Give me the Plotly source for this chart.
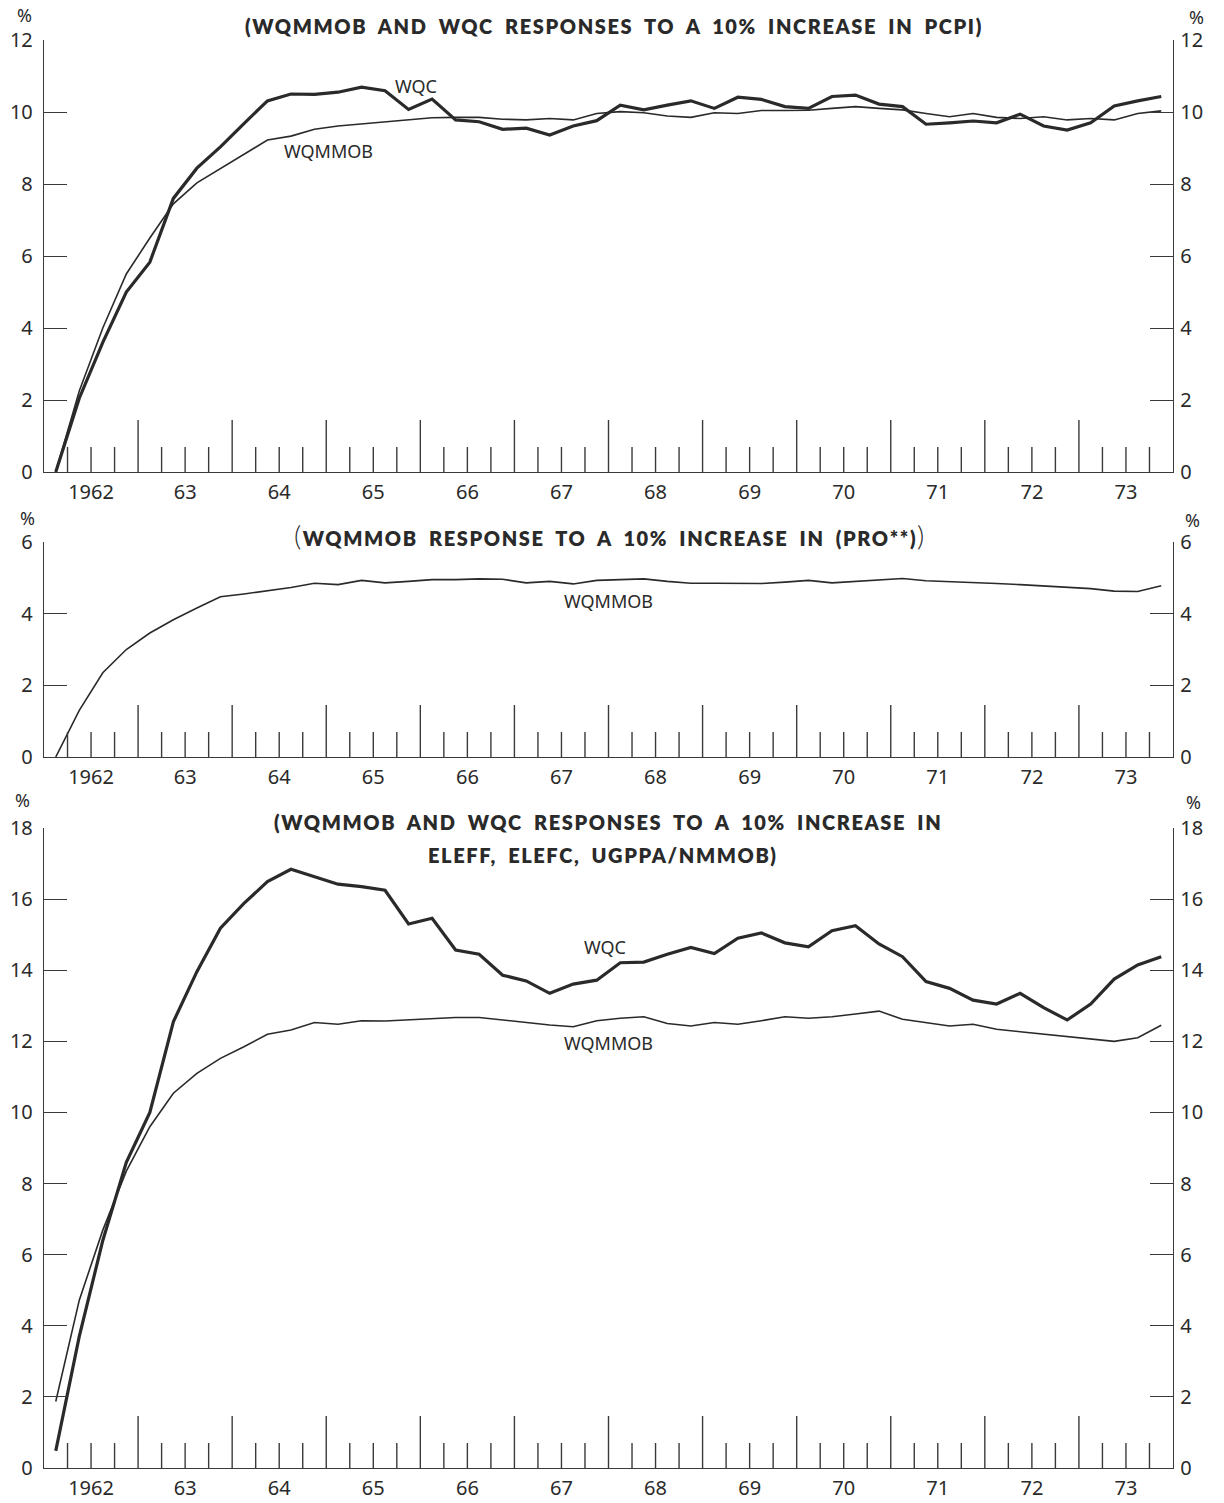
import plotly.graph_objects as go

# ---------------- data ----------------
years = list(range(1962, 1974))
year_labels = ["1962", "63", "64", "65", "66", "67", "68", "69", "70", "71", "72", "73"]
quarters = [f"{y}Q{q}" for y in years for q in (1, 2, 3, 4)]

top_wqc = [0.0, 2.05, 3.6, 5.0, 5.83, 7.6, 8.44, 9.03, 9.68, 10.31, 10.5, 10.49,
           10.55, 10.69, 10.59, 10.07, 10.36, 9.78, 9.73, 9.52, 9.55, 9.36, 9.61, 9.76,
           10.19, 10.06, 10.19, 10.31, 10.1, 10.41, 10.35, 10.15, 10.1, 10.43, 10.47, 10.22,
           10.15, 9.66, 9.7, 9.75, 9.7, 9.94, 9.61, 9.5, 9.7, 10.17, 10.31, 10.43]
top_wqmmob = [0.0, 2.25, 4.0, 5.5, 6.5, 7.45, 8.03, 8.42, 8.82, 9.22, 9.33, 9.52,
              9.61, 9.67, 9.74, 9.8, 9.84, 9.85, 9.85, 9.8, 9.78, 9.82, 9.78, 9.96,
              10.01, 9.98, 9.89, 9.85, 9.98, 9.96, 10.04, 10.04, 10.05, 10.1, 10.15, 10.1,
              10.06, 9.96, 9.87, 9.96, 9.85, 9.82, 9.87, 9.78, 9.82, 9.78, 9.96, 10.03]

mid_wqmmob = [0.0, 1.3, 2.35, 3.0, 3.46, 3.83, 4.16, 4.47, 4.55, 4.63, 4.73, 4.85,
              4.81, 4.93, 4.86, 4.9, 4.95, 4.95, 4.97, 4.96, 4.86, 4.9, 4.83, 4.93,
              4.94, 4.97, 4.9, 4.85, 4.85, 4.84, 4.84, 4.88, 4.93, 4.86, 4.9, 4.95,
              4.98, 4.92, 4.9, 4.87, 4.84, 4.81, 4.78, 4.75, 4.7, 4.63, 4.62, 4.78]

bot_wqc = [0.48, 3.7, 6.4, 8.6, 10.0, 12.55, 13.96, 15.18, 15.88, 16.49, 16.84, 16.63,
           16.42, 16.35, 16.25, 15.3, 15.46, 14.57, 14.45, 13.86, 13.7, 13.35, 13.61, 13.72,
           14.21, 14.23, 14.45, 14.64, 14.47, 14.9, 15.05, 14.77, 14.66, 15.11, 15.25, 14.74,
           14.38, 13.68, 13.49, 13.16, 13.05, 13.35, 12.95, 12.6, 13.05, 13.75, 14.15, 14.38]
bot_wqmmob = [1.87, 4.72, 6.69, 8.35, 9.6, 10.54, 11.1, 11.52, 11.85, 12.2, 12.32, 12.53,
              12.48, 12.58, 12.57, 12.6, 12.63, 12.67, 12.67, 12.6, 12.52, 12.46, 12.41, 12.58,
              12.65, 12.69, 12.5, 12.43, 12.53, 12.48, 12.58, 12.69, 12.65, 12.69, 12.77, 12.85,
              12.62, 12.52, 12.43, 12.48, 12.34, 12.27, 12.2, 12.12, 12.05, 12.0, 12.1, 12.45]

titles = [
    ["(WQMMOB AND WQC RESPONSES TO A 10% INCREASE IN PCPI)"],
    ["(WQMMOB RESPONSE TO A 10% INCREASE IN (PRO**))"],
    ["(WQMMOB AND WQC RESPONSES TO A 10% INCREASE IN", "ELEFF, ELEFC, UGPPA/NMMOB)"],
]

# ---------------- helpers ----------------
W, H = 1224, 1503
ML, MR = 44, 51
PW = W - ML - MR


def qpos(label):
    y, q = label.split("Q")
    return int(y) + (int(q) - 0.5) / 4.0


def px(xpix):
    return (xpix - ML) / PW


def py(ypix):
    return 1 - ypix / H


xq = [qpos(q) for q in quarters]
INK = "#2a2a2a"
AXC = "#3a3a3a"
TICKFONT = dict(family="Noto Sans", size=20, color=INK)
PCTFONT = dict(family="Noto Sans", size=18, color=INK)
LABFONT = dict(family="Noto Sans", size=18, color=INK)
TITLEFONT = dict(family="Lato", size=20, color=INK)

panels = [
    dict(ymax=12, top=40, bottom=472,
         series=[(top_wqc, 3.2), (top_wqmmob, 1.6)],
         labels=[("WQC", 416, 86), ("WQMMOB", 328, 151)],
         title_pos=[(614, 26)], pct=[(24, 15), (1196, 17)]),
    dict(ymax=6, top=542, bottom=757,
         series=[(mid_wqmmob, 1.6)],
         labels=[("WQMMOB", 608, 601)],
         title_pos=[(610, 535)], pct=[(27, 518), (1192, 520)]),
    dict(ymax=18, top=828, bottom=1468,
         series=[(bot_wqc, 3.2), (bot_wqmmob, 1.6)],
         labels=[("WQC", 605, 947), ("WQMMOB", 608, 1043)],
         title_pos=[(608, 822), (603, 855)], pct=[(22, 800), (1193, 802)]),
]

fig = go.Figure()
annotations = []

year_bounds = years[1:]
quarter_bounds = [y + f for y in years for f in (0.25, 0.5, 0.75)]
mid_years = [y + 0.5 for y in years]

for k, p in enumerate(panels, start=1):
    xa = "x" if k == 1 else f"x{k}"
    ya = "y" if k == 1 else f"y{k}"
    yr = f"y{k + 3}"
    # year / quarter tick marks drawn on the axis scale
    unit_px = (p["bottom"] - p["top"]) / p["ymax"]
    long_h = 52 / unit_px
    short_h = 25 / unit_px
    tx, ty = [], []
    for b in year_bounds:
        tx += [b, b, None]
        ty += [0, long_h, None]
    for b in quarter_bounds:
        tx += [b, b, None]
        ty += [0, short_h, None]
    fig.add_trace(go.Scatter(x=tx, y=ty, mode="lines", xaxis=xa, yaxis=yr,
                             line=dict(color=AXC, width=1.4), hoverinfo="skip",
                             showlegend=False))
    for vals, lw in p["series"]:
        fig.add_trace(go.Scatter(x=xq, y=vals, mode="lines", xaxis=xa, yaxis=ya,
                                 line=dict(color=INK, width=lw), showlegend=False,
                                 cliponaxis=False))
    dom = [py(p["bottom"]), py(p["top"])]
    yticks = list(range(0, p["ymax"] + 1, 2))
    common_y = dict(range=[0, p["ymax"]], tickvals=yticks, ticks="inside", ticklen=23,
                    tickwidth=1.4, tickcolor=AXC, showline=True, linecolor=AXC,
                    linewidth=1.4, showgrid=False, zeroline=False, tickfont=TICKFONT,
                    domain=dom, fixedrange=True, automargin=False)
    fig.update_layout(**{
        ("xaxis" if k == 1 else f"xaxis{k}"): dict(
            range=[1962, 1974], domain=[0, 1], anchor=ya, tickvals=mid_years,
            ticktext=year_labels, ticks="", showline=True, linecolor=AXC, linewidth=1.4,
            showgrid=False, zeroline=False, tickfont=TICKFONT, ticklabelstandoff=2,
            automargin=False, fixedrange=True),
        ("yaxis" if k == 1 else f"yaxis{k}"): dict(anchor=xa, side="left",
                                                   ticklabelstandoff=6, **common_y),
        f"yaxis{k + 3}": dict(anchor=xa, side="right", overlaying=ya,
                              ticklabelstandoff=2, **common_y),
    })
    for txt, lx, ly in p["labels"]:
        annotations.append(dict(text=txt, x=px(lx), y=py(ly), xref="paper", yref="paper",
                                showarrow=False, font=LABFONT, xanchor="center",
                                yanchor="middle"))
    for line, (tx_, ty_) in zip(titles[k - 1], p["title_pos"]):
        styled = line
        if k == 2:
            styled = ('<span style="font-size:28px;font-weight:300">(</span>'
                      + line[1:-1]
                      + '<span style="font-size:28px;font-weight:300">)</span>')
        annotations.append(dict(
            text=f'<span style="letter-spacing:1.6px;word-spacing:5px">{styled}</span>',
            x=px(tx_), y=py(ty_), xref="paper", yref="paper", showarrow=False,
            font=dict(weight=800, **TITLEFONT), xanchor="center", yanchor="middle"))
    for (cx, cy) in p["pct"]:
        annotations.append(dict(text="%", x=px(cx), y=py(cy), xref="paper", yref="paper",
                                showarrow=False, font=PCTFONT, xanchor="center",
                                yanchor="middle"))

fig.update_layout(width=W, height=H, margin=dict(l=ML, r=MR, t=0, b=0),
                  paper_bgcolor="white", plot_bgcolor="white",
                  annotations=annotations, showlegend=False)

fig.write_html("out.html")
